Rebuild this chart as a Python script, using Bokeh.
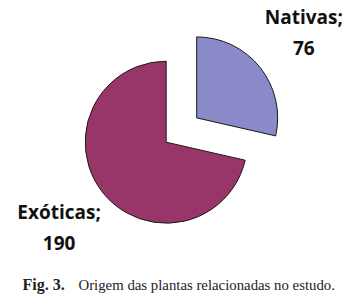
import math
from bokeh.plotting import figure
from bokeh.models import Range1d, ColumnDataSource
from bokeh.core.properties import value
from bokeh.embed import file_html
from bokeh.resources import INLINE

categories = ["Nativas", "Exóticas"]
counts = [76, 190]
colors = ["#8a8ac8", "#993669"]
explode = [39, 0]
caption_bold = "Fig. 3."
caption_rest = "Origem das plantas relacionadas no estudo."

W, H = 342, 295
p = figure(width=W, height=H, output_backend="svg", toolbar_location=None,
           x_range=Range1d(0, W), y_range=Range1d(0, H), min_border=0)
p.axis.visible = False
p.grid.visible = False
p.outline_line_color = None
p.background_fill_color = "white"
p.border_fill_color = "white"

# positions given in reference-image pixels (y measured downward)
def Y(img_y):
    return H - img_y

cx, cy, r = 165.7, Y(141.7), 81
total = sum(counts)
start = math.pi / 2
xs, ys, starts, ends, lx1, ly1, lx2, ly2, t1, t2 = [], [], [], [], [], [], [], [], [], []
for cat, v, e in zip(categories, counts, explode):
    sweep = 2 * math.pi * v / total
    a0 = start - sweep
    a1 = start
    mid = (a0 + a1) / 2
    x = cx + e * math.cos(mid)
    y = cy + e * math.sin(mid)
    xs.append(x); ys.append(y); starts.append(a0); ends.append(a1)
    lr = 137
    lx = x + lr * math.cos(mid)
    ly = y + lr * math.sin(mid)
    lx1.append(lx); ly1.append(ly + 15.5)
    lx2.append(lx); ly2.append(ly - 15.5)
    t1.append(f"{cat};"); t2.append(str(v))
    start = a0

src = ColumnDataSource(dict(x=xs, y=ys, s=starts, e=ends, c=colors))
p.wedge(x="x", y="y", radius=r, start_angle="s", end_angle="e", fill_color="c",
        line_color="#1a1a1a", line_width=1, source=src)

for X, YY, T in ((lx1, ly1, t1), (lx2, ly2, t2)):
    p.text(x=X, y=YY, text=T, text_align="center", text_baseline="middle",
           text_font=value("Open Sans"), text_font_style="bold",
           text_font_size="19px", text_color="#111111")

p.text(x=[22], y=[Y(284)], text=[caption_bold], text_align="left", text_baseline="middle",
       text_font=value("Liberation Serif"), text_font_style="bold",
       text_font_size="16px", text_color="#222222")
p.text(x=[78], y=[Y(284)], text=[caption_rest], text_align="left", text_baseline="middle",
       text_font=value("Liberation Serif"), text_font_size="14.8px", text_color="#222222")

open("out.html", "w").write(file_html(p, INLINE))
